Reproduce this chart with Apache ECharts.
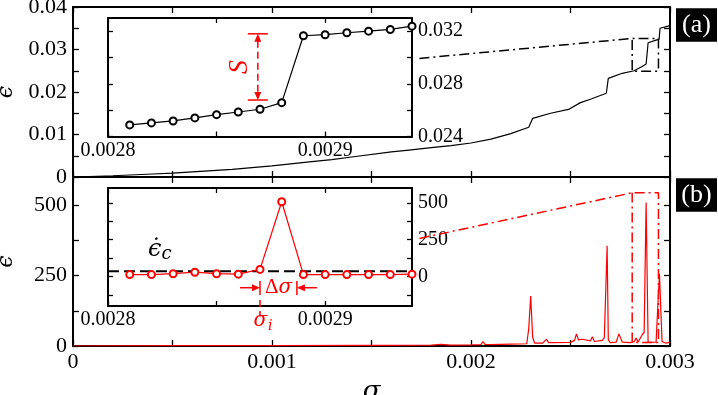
<!DOCTYPE html>
<html><head><meta charset="utf-8">
<script src="https://cdn.jsdelivr.net/npm/echarts@6/dist/echarts.min.js"></script>
<style>html,body{margin:0;padding:0;background:#fff}#c{width:718px;height:395px}</style>
</head><body><div id="c"></div>
<script>
// ---- data ----
const sigA = [0, 0.0002, 0.0004, 0.0005, 0.0006, 0.0008, 0.001, 0.0012, 0.0013, 0.0014, 0.0016, 0.0017, 0.0018, 0.0019, 0.002, 0.0021, 0.0022, 0.00229, 0.00231, 0.0024, 0.00249, 0.00255, 0.0026, 0.00268, 0.00269, 0.00276, 0.00282, 0.00286, 0.00288, 0.00289, 0.00293, 0.002945, 0.00295, 0.00299, 0.003];
const epsA = [0, 0.0003, 0.0007, 0.0009, 0.0012, 0.0018, 0.0026, 0.0036, 0.0041, 0.0047, 0.0059, 0.0064, 0.0069, 0.0074, 0.0080, 0.0089, 0.0102, 0.0117, 0.0138, 0.0150, 0.0159, 0.0175, 0.0183, 0.0197, 0.0232, 0.0244, 0.0250, 0.0260, 0.0266, 0.0316, 0.0322, 0.0324, 0.0350, 0.0355, 0.0357];

const sigB = [0, 0.0005, 0.001, 0.0015, 0.0018, 0.00185, 0.0019, 0.002, 0.00205, 0.00206, 0.00207, 0.0021, 0.0022, 0.00228, 0.00229, 0.0023, 0.00231, 0.00232, 0.00236, 0.00237, 0.00238, 0.00239, 0.0025, 0.00252, 0.00253, 0.00254, 0.00256, 0.0026, 0.00261, 0.00262, 0.00266, 0.00267, 0.002684, 0.00269, 0.0027, 0.00273, 0.002743, 0.00276, 0.0028, 0.00282, 0.00283, 0.00284, 0.00286, 0.00287, 0.00288, 0.00289, 0.0029, 0.00293, 0.002947, 0.00296, 0.00298, 0.003];
const rateB = [0, 1, 1, 2, 3, 6, 3, 4, 5, 16, 6, 5, 7, 8, 60, 177, 30, 10, 10, 14, 24, 12, 13, 20, 43, 22, 24, 18, 33, 16, 20, 30, 356, 22, 12, 14, 43, 14, 12, 15, 28, 14, 40, 48, 509, 13, 13, 14, 256, 16, 10, 14];

const sigIns = [0.00281, 0.00282, 0.00283, 0.00284, 0.00285, 0.00286, 0.00287, 0.00288, 0.00289, 0.0029, 0.00291, 0.00292, 0.00293, 0.00294];
const epsIns = [0.02488, 0.02503, 0.02518, 0.02541, 0.02566, 0.02586, 0.02607, 0.02657, 0.03165, 0.03173, 0.03188, 0.03200, 0.03213, 0.03238];
const rateIns = [13, 13, 19, 29, 19, 16, 48, 507, 13, 13, 13, 13, 13, 16];
const rateCrit = 36;

// zoom boxes / connectors (data units of the main panels)
const zoomSigA = [0.001741, 0.00281, 0.002942, 0.002942, 0.00281, 0.00281];
const zoomEpsA = [0.0279, 0.0326, 0.0326, 0.0249, 0.0249, 0.0326];
const zoomSigB = [0.001741, 0.00281, 0.002942, 0.002942, 0.00281, 0.00281];
const zoomRateB = [382, 544, 544, 12, 12, 544];

// annotation anchors
const sBracket = {sig: 0.002869, lo: 0.02677, hi: 0.0318};
const dSig = {i: 0.00287, f: 0.002887, y: -76, barHi: -30, barLo: -125, leftStart: 0.0028608, rightStart: 0.0028962};

// ticks / labels
const xTicks = [0, 0.0005, 0.001, 0.0015, 0.002, 0.0025, 0.003];
const xLabels = [0, 0.001, 0.002, 0.003];
const yTicksA = [0, 0.005, 0.01, 0.015, 0.02, 0.025, 0.03, 0.035, 0.04];
const yLabelsA = [0, 0.01, 0.02, 0.03, 0.04];
const yTicksB = [0, 125, 250, 375, 500];
const yLabelsB = [0, 250, 500];
const insXTicks = [0.0028, 0.00285, 0.0029];
const insXLabels = [0.0028, 0.0029];
const insAYTicks = [0.024, 0.026, 0.028, 0.030, 0.032];
const insAYLabels = [0.024, 0.028, 0.032];
const insBYTicks = [-125, 0, 125, 250, 375, 500];
const insBYLabels = [0, 250, 500];

// ---- chart ----
const FONT = "'Liberation Serif', 'Times New Roman', serif";
const GFONT = "'DejaVu Serif', 'Liberation Serif', serif";
const fmt = v => String(parseFloat(Number(v).toPrecision(6)));

function axis(o) {
  return {
    type: 'value', gridIndex: o.grid, position: o.pos, min: o.min, max: o.max,
    name: o.name || '', nameLocation: 'middle', nameGap: o.nameGap || 0, nameRotate: o.nameRotate,
    nameTextStyle: {fontFamily: GFONT, fontStyle: 'italic', fontSize: o.nameSize || 22, color: '#000'},
    axisLine: {show: true, onZero: false, lineStyle: {color: '#000', width: 2}},
    axisTick: {show: true, inside: true, length: o.tickLen || 6, customValues: o.ticks, lineStyle: {color: '#000', width: 1.3}},
    axisLabel: {show: !!o.labels, customValues: o.labels || [], formatter: fmt, color: '#000', fontFamily: FONT, fontSize: o.fs || 22, margin: o.margin || 6},
    splitLine: {show: false}, minorTick: {show: false}
  };
}

const G0 = {left: 73, top: 7, width: 597, height: 170};
const G1 = {left: 73, top: 177, width: 597, height: 169};
const G2 = {left: 108, top: 18, width: 304, height: 118.5};
const G3 = {left: 108, top: 188, width: 304, height: 118};

const chart = echarts.init(document.getElementById('c'), null, {renderer: 'canvas'});
const zip = (a, b) => a.map((v, i) => [v, b[i]]);

chart.setOption({
  animation: false,
  backgroundColor: '#fff',
  textStyle: {fontFamily: FONT},
  grid: [
    Object.assign({outerBoundsMode: 'none', containLabel: false}, G0),
    Object.assign({outerBoundsMode: 'none', containLabel: false}, G1),
    Object.assign({outerBoundsMode: 'none', containLabel: false, show: true, backgroundColor: '#fff', borderWidth: 0}, G2),
    Object.assign({outerBoundsMode: 'none', containLabel: false, show: true, backgroundColor: '#fff', borderWidth: 0}, G3)
  ],
  xAxis: [
    axis({grid: 0, pos: 'bottom', min: 0, max: 0.003, ticks: xTicks}),
    axis({grid: 0, pos: 'top', min: 0, max: 0.003, ticks: xTicks}),
    axis({grid: 1, pos: 'bottom', min: 0, max: 0.003, ticks: xTicks, labels: xLabels, margin: 5, name: 'σ', nameGap: 33, nameSize: 26}),
    axis({grid: 1, pos: 'top', min: 0, max: 0.003, ticks: xTicks}),
    axis({grid: 2, pos: 'bottom', min: 0.0028, max: 0.00294, ticks: insXTicks, labels: insXLabels, margin: 4, tickLen: 5, fs: 20}),
    axis({grid: 2, pos: 'top', min: 0.0028, max: 0.00294, ticks: insXTicks, tickLen: 5}),
    axis({grid: 3, pos: 'bottom', min: 0.0028, max: 0.00294, ticks: insXTicks, labels: insXLabels, margin: 4, tickLen: 5, fs: 20}),
    axis({grid: 3, pos: 'top', min: 0.0028, max: 0.00294, ticks: insXTicks, tickLen: 5})
  ],
  yAxis: [
    axis({grid: 0, pos: 'left', min: 0, max: 0.04, ticks: yTicksA, labels: yLabelsA, name: 'ϵ', nameGap: 56, nameRotate: 90}),
    axis({grid: 0, pos: 'right', min: 0, max: 0.04, ticks: yTicksA}),
    axis({grid: 1, pos: 'left', min: 0, max: 600, ticks: yTicksB, labels: yLabelsB, name: 'ϵ̇', nameGap: 56, nameRotate: 90}),
    axis({grid: 1, pos: 'right', min: 0, max: 600, ticks: yTicksB}),
    axis({grid: 2, pos: 'left', min: 0.024, max: 0.033, ticks: insAYTicks, tickLen: 5}),
    axis({grid: 2, pos: 'right', min: 0.024, max: 0.033, ticks: insAYTicks, labels: insAYLabels, tickLen: 5, fs: 20}),
    axis({grid: 3, pos: 'left', min: -200, max: 600, ticks: insBYTicks, tickLen: 5}),
    axis({grid: 3, pos: 'right', min: -200, max: 600, ticks: insBYTicks, labels: insBYLabels, tickLen: 5, fs: 20})
  ],
  series: [
    {type: 'line', xAxisIndex: 0, yAxisIndex: 0, data: zip(sigA, epsA), showSymbol: false, symbol: 'none',
     lineStyle: {color: '#000', width: 1.2}, z: 3},
    {type: 'line', xAxisIndex: 2, yAxisIndex: 2, data: zip(sigB, rateB), showSymbol: false, symbol: 'none',
     lineStyle: {color: '#ff0000', width: 1.2}, z: 3},
    {type: 'line', xAxisIndex: 0, yAxisIndex: 0, data: zip(zoomSigA, zoomEpsA), symbol: 'none',
     lineStyle: {color: '#000', width: 1.5, type: [10, 4, 2, 4]}, z: 3},
    {type: 'line', xAxisIndex: 2, yAxisIndex: 2, data: zip(zoomSigB, zoomRateB), symbol: 'none',
     lineStyle: {color: '#ff0000', width: 1.5, type: [10, 4, 2, 4]}, z: 3},
    {type: 'line', xAxisIndex: 4, yAxisIndex: 4, data: zip(sigIns, epsIns), symbol: 'emptyCircle', symbolSize: 7,
     lineStyle: {color: '#000', width: 1.2}, itemStyle: {color: '#000', borderWidth: 1.2}, z: 5, clip: false},
    {type: 'line', xAxisIndex: 6, yAxisIndex: 6, data: [[0.0028, rateCrit], [0.00294, rateCrit]], symbol: 'none',
     lineStyle: {color: '#000', width: 2, type: [11, 5]}, z: 4},
    {type: 'line', xAxisIndex: 6, yAxisIndex: 6, data: zip(sigIns, rateIns), symbol: 'emptyCircle', symbolSize: 7,
     lineStyle: {color: '#ff0000', width: 1.2}, itemStyle: {color: '#ff0000', borderWidth: 1.2}, z: 5, clip: false}
  ]
});

// ---- annotations placed through the axes' scales ----
const P = (xi, yi, x, y) => chart.convertToPixel({xAxisIndex: xi, yAxisIndex: yi}, [x, y]);
const RED = '#ff0000';
const g = [];
const line = (a, b, color, w, dash) => g.push({type: 'line', z: 100, shape: {x1: a[0], y1: a[1], x2: b[0], y2: b[1]}, style: {stroke: color, lineWidth: w, lineDash: dash || null}});
const tri = (pts, color) => g.push({type: 'polygon', z: 100, shape: {points: pts}, style: {fill: color}});

// S bracket (inset a)
{
  const t = P(4, 4, sBracket.sig, sBracket.hi), b = P(4, 4, sBracket.sig, sBracket.lo);
  const x = t[0];
  line([x, t[1] + 7], [x, b[1] - 7], RED, 1.5, [7, 4]);
  line([x - 10, t[1]], [x + 10, t[1]], RED, 1.5);
  line([x - 10, b[1]], [x + 10, b[1]], RED, 1.5);
  tri([[x, t[1]], [x - 3.5, t[1] + 8], [x + 3.5, t[1] + 8]], RED);
  tri([[x, b[1]], [x - 3.5, b[1] - 8], [x + 3.5, b[1] - 8]], RED);
  g.push({type: 'text', z: 100, x: x - 18, y: (t[1] + b[1]) / 2, rotation: Math.PI / 2,
    style: {text: 'S', fill: RED, font: "italic 28px 'Liberation Serif', serif", align: 'center', verticalAlign: 'middle'}});
}
// Delta sigma (inset b)
{
  const it = P(6, 6, dSig.i, dSig.barHi), ib = P(6, 6, dSig.i, dSig.barLo);
  const ft = P(6, 6, dSig.f, dSig.barHi), fb = P(6, 6, dSig.f, dSig.barLo);
  line(it, ib, RED, 1.5);
  line(ft, fb, RED, 1.5);
  const d1 = P(6, 6, dSig.i, -160), d2 = P(6, 6, dSig.i, -272);
  line(d1, d2, RED, 1.5, [7, 4]);
  const ls = P(6, 6, dSig.leftStart, dSig.y), le = P(6, 6, dSig.i, dSig.y);
  line(ls, [le[0] - 6, le[1]], RED, 1.5);
  tri([[le[0], le[1]], [le[0] - 8, le[1] - 3.5], [le[0] - 8, le[1] + 3.5]], RED);
  const rs = P(6, 6, dSig.rightStart, dSig.y), re = P(6, 6, dSig.f, dSig.y);
  line(rs, [re[0] + 6, re[1]], RED, 1.5);
  tri([[re[0], re[1]], [re[0] + 8, re[1] - 3.5], [re[0] + 8, re[1] + 3.5]], RED);
  g.push({type: 'text', z: 100, x: (le[0] + re[0]) / 2, y: le[1],
    style: {text: '{a|Δ}{b|σ}', align: 'center', verticalAlign: 'middle',
      rich: {a: {fill: RED, font: "21px 'Liberation Serif', serif"}, b: {fill: RED, font: 'italic 20px ' + GFONT}}}});
  const si = P(6, 6, dSig.i, -302);
  g.push({type: 'text', z: 100, x: si[0] + 3, y: si[1],
    style: {text: '{a|σ}{b|i}', align: 'center', verticalAlign: 'middle',
      rich: {a: {fill: RED, font: 'italic 20px ' + GFONT}, b: {fill: RED, font: 'italic 14px ' + GFONT, padding: [10, 0, 0, 1]}}}});
  const ec = P(6, 6, 0.0028184, 92);
  g.push({type: 'text', z: 100, x: ec[0], y: ec[1],
    style: {text: '{a|ϵ̇}{b|c}', align: 'left', verticalAlign: 'bottom',
      rich: {a: {fill: '#000', font: 'italic 24px ' + GFONT}, b: {fill: '#000', font: 'italic 18px ' + GFONT, padding: [8, 0, 0, 0]}}}});
}
// panel tags
[['(a)', 8.3], ['(b)', 178.3]].forEach(([t, y]) => {
  g.push({type: 'rect', z: 100, shape: {x: 676, y: y, width: 41, height: 33.4}, style: {fill: '#000'}});
  g.push({type: 'text', z: 101, x: 696.5, y: y + 17, style: {text: t, fill: '#fff', font: "26px 'Liberation Serif', serif", align: 'center', verticalAlign: 'middle'}});
});
chart.setOption({graphic: g});
</script>
</body></html>
